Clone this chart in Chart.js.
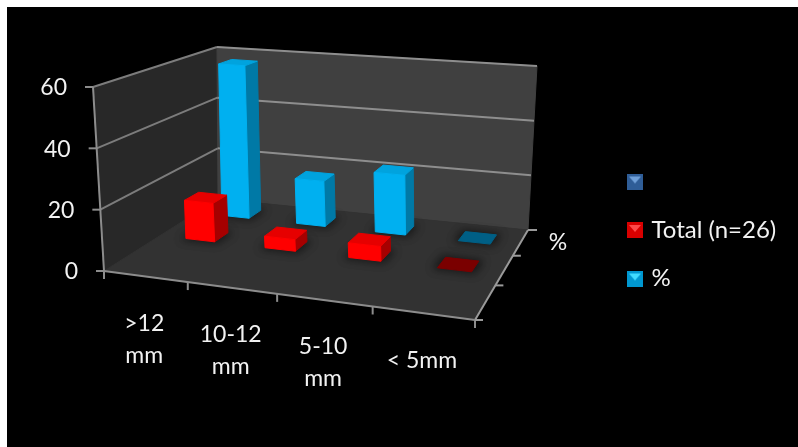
<!DOCTYPE html>
<html>
<head>
<meta charset="utf-8">
<script src="https://cdn.jsdelivr.net/npm/chart.js@4"></script>
<style>
  html, body { margin: 0; padding: 0; background: #fff; }
  canvas { display: block; filter: blur(0.45px); }
</style>
</head>
<body>
<canvas id="chart" width="798" height="447"></canvas>
<script>
const categories = [[">12", "mm"], ["10-12", "mm"], ["5-10", "mm"], ["< 5mm"]];
const blankValues = [null, null, null, null];
const totalValues = [13.5, 4, 5, 0];
const percentValues = [57, 16.5, 21.5, 0];
const seriesNames = ["", "Total (n=26)", "%"];
const valueTicks = [0, 20, 40, 60];
const depthLabel = "%";

const FONT = "Lato, 'Open Sans', sans-serif";
const faces = [
  null,
  { front: "#ff0000", side: "#a60000", top: "#e60000", flat: "#7a0000" },
  { front: "#00b0f0", side: "#0079a6", top: "#00a3de", flat: "#005f85" }
];
const legendColors = [["#2f5d97", "#6f9fd8"], ["#d80000", "#ff4a4a"], ["#0097d0", "#40dcff"]];

// corners of the box in screen space: front-left, front-right, back-right, back-left
const floorQuad = [[104, 271], [475, 320], [528, 230], [218, 199]];
const ceilQuad = [[93, 87], [484, 124], [537, 66], [217, 47]];
// bars sit a touch further right towards the back-left than the wall corner suggests
const barFloorQuad = [[104, 271], [475, 320], [528, 230], [222, 199]];
const barCeilQuad = [[93, 87], [484, 124], [537, 66], [221, 47]];

function quadMap(q) {
  const [p0, p1, p2, p3] = q;
  const sx = p0[0] - p1[0] + p2[0] - p3[0], sy = p0[1] - p1[1] + p2[1] - p3[1];
  const dx1 = p1[0] - p2[0], dx2 = p3[0] - p2[0], dy1 = p1[1] - p2[1], dy2 = p3[1] - p2[1];
  const den = dx1 * dy2 - dx2 * dy1;
  const g = (sx * dy2 - dx2 * sy) / den, h = (dx1 * sy - sx * dy1) / den;
  const a = p1[0] - p0[0] + g * p1[0], b = p3[0] - p0[0] + h * p3[0];
  const d = p1[1] - p0[1] + g * p1[1], e = p3[1] - p0[1] + h * p3[1];
  return (u, w) => {
    const z = g * u + h * w + 1;
    return [(a * u + b * w + p0[0]) / z, (d * u + e * w + p0[1]) / z];
  };
}

// u across the categories, w into the depth, v up the value axis, all 0..1
function projector(floorQ, ceilQ) {
  const floorAt = quadMap(floorQ), ceilAt = quadMap(ceilQ);
  return (u, w, v) => {
    const f = floorAt(u, w), c = ceilAt(u, w);
    return [f[0] + (c[0] - f[0]) * v, f[1] + (c[1] - f[1]) * v];
  };
}
const project = projector(floorQuad, ceilQuad);
const projectBar = projector(barFloorQuad, barCeilQuad);

function poly(ctx, pts, fill) {
  ctx.beginPath();
  pts.forEach((p, i) => i ? ctx.lineTo(p[0], p[1]) : ctx.moveTo(p[0], p[1]));
  ctx.closePath();
  ctx.fillStyle = fill;
  ctx.fill();
  ctx.lineJoin = "round";
  ctx.lineWidth = 1;
  ctx.strokeStyle = fill;
  ctx.stroke();
}

function line(ctx, a, b, color, width) {
  ctx.beginPath();
  ctx.moveTo(a[0], a[1]);
  ctx.lineTo(b[0], b[1]);
  ctx.strokeStyle = color;
  ctx.lineWidth = width || 2;
  ctx.stroke();
}

function legendIcon(colors) {
  const c = document.createElement("canvas");
  c.width = 16;
  c.height = 16;
  const g = c.getContext("2d");
  g.fillStyle = colors[0];
  g.fillRect(0, 0, 16, 16);
  g.fillStyle = colors[1];
  g.beginPath();
  g.moveTo(2, 3);
  g.lineTo(14, 3);
  g.lineTo(8, 10);
  g.closePath();
  g.fill();
  return c;
}

const scene3d = {
  id: "scene3d",
  afterLayout(chart) {
    // legend sits far right of the floor, lower than the plot's centre
    const lg = chart.legend;
    const w = lg.right - lg.left;
    lg.left = 606;
    lg.right = 606 + w;
    lg.top = 90;
    lg.bottom = 370;
  },
  beforeDraw(chart) {
    const ctx = chart.ctx, y = chart.scales.y;
    const area = chart.chartArea;
    ctx.save();
    ctx.fillStyle = "#000";
    ctx.fillRect(7, 7, chart.width - 7, chart.height - 7);

    poly(ctx, [project(0, 0, 0), project(0, 1, 0), project(0, 1, 1), project(0, 0, 1)], "#282828");
    poly(ctx, [project(0, 1, 0), project(1, 1, 0), project(1, 1, 1), project(0, 1, 1)], "#404040");
    poly(ctx, [project(0, 0, 0), project(1, 0, 0), project(1, 1, 0), project(0, 1, 0)], "#323232");

    valueTicks.forEach(t => {
      const v = (area.bottom - y.getPixelForValue(t)) / area.height;
      const a = project(0, 0, v), b = project(0, 1, v), c = project(1, 1, v);
      if (t > 0) {
        line(ctx, a, b, "#7c7c7c");
        line(ctx, b, c, "#8e8e8e");
      }
      line(ctx, a, [a[0] - 8, a[1]], "#8c8c8c");
      ctx.fillStyle = "#f2f2f2";
      ctx.font = "23px " + FONT;
      ctx.textAlign = "right";
      ctx.textBaseline = "middle";
      ctx.fillText(String(t), a[0] - 26, a[1] + 1);
    });

    line(ctx, project(0, 0, 0), project(0, 0, 1), "#8c8c8c");
    line(ctx, project(1, 0, 0), project(1, 1, 0), "#9a9a9a");
    line(ctx, project(0, 0, 0), project(1, 0, 0), "#8c8c8c");

    // category ticks and labels
    const x = chart.scales.x;
    categories.forEach((label, i) => {
      const u = (x.getPixelForValue(i) - area.left) / area.width;
      const mid = project(u, 0, 0);
      ctx.fillStyle = "#f2f2f2";
      ctx.font = "23px " + FONT;
      ctx.textAlign = "center";
      ctx.textBaseline = "middle";
      label.forEach((txt, n) => ctx.fillText(txt, mid[0] - 1, mid[1] + 47 + n * 32));
    });
    for (let i = 0; i <= categories.length; i++) {
      const p = project(i / categories.length, 0, 0);
      line(ctx, p, [p[0], p[1] + 8], "#8c8c8c");
    }

    // depth ticks, one per series row
    seriesNames.forEach((s, i) => {
      const p = project(1, i / seriesNames.length, 0);
      line(ctx, p, [p[0] + 8, p[1]], "#9a9a9a");
    });
    const back = project(1, 1, 0);
    line(ctx, back, [back[0] + 9, back[1]], "#9a9a9a");
    ctx.fillStyle = "#f2f2f2";
    ctx.font = "23px " + FONT;
    ctx.textAlign = "center";
    ctx.textBaseline = "middle";
    ctx.fillText(depthLabel, back[0] + 30, back[1] + 13);
    ctx.restore();
  },
  afterDatasetsDraw(chart) {
    const ctx = chart.ctx, area = chart.chartArea;
    const rows = chart.data.datasets.length;
    const catWidth = area.width / categories.length;
    const pb = projectBar;
    ctx.save();
    for (let ds = rows - 1; ds >= 0; ds--) {
      const meta = chart.getDatasetMeta(ds);
      const values = chart.data.datasets[ds].data;
      meta.data.forEach((el, i) => {
        if (values[i] === null) return;
        const u0 = (el.x - el.width / 2 - area.left) / area.width;
        const u1 = (el.x + el.width / 2 - area.left) / area.width;
        const v = (area.bottom - el.y) / area.height;
        const half = el.width / catWidth / rows / 2;
        const w0 = (ds + 0.5) / rows - half, w1 = (ds + 0.5) / rows + half;
        const f = faces[ds];

        ctx.save();
        ctx.filter = "blur(4px)";
        poly(ctx, [pb(u0 - 0.01, w0 - 0.01, 0), pb(u1 + 0.01, w0 - 0.01, 0), pb(u1 + 0.01, w1 + 0.01, 0), pb(u0 - 0.01, w1 + 0.01, 0)], "rgba(0,0,0,0.55)");
        ctx.restore();

        if (values[i] === 0) {
          poly(ctx, [pb(u0, w0, 0), pb(u1, w0, 0), pb(u1, w1, 0), pb(u0, w1, 0)], f.flat);
          return;
        }
        poly(ctx, [pb(u1, w0, 0), pb(u1, w1, 0), pb(u1, w1, v), pb(u1, w0, v)], f.side);
        poly(ctx, [pb(u0, w0, v), pb(u1, w0, v), pb(u1, w1, v), pb(u0, w1, v)], f.top);
        poly(ctx, [pb(u0, w0, 0), pb(u1, w0, 0), pb(u1, w0, v), pb(u0, w0, v)], f.front);
      });
    }
    ctx.restore();
  }
};

const icons = legendColors.map(legendIcon);

new Chart(document.getElementById("chart"), {
  type: "bar",
  data: {
    labels: categories,
    datasets: [
      { label: seriesNames[0], data: blankValues, backgroundColor: "transparent" },
      { label: seriesNames[1], data: totalValues, backgroundColor: "transparent" },
      { label: seriesNames[2], data: percentValues, backgroundColor: "transparent" }
    ]
  },
  plugins: [scene3d],
  options: {
    responsive: false,
    animation: false,
    layout: { padding: { left: 104, top: 87, bottom: 176, right: 140 } },
    datasets: { bar: { grouped: false, barPercentage: 0.37, categoryPercentage: 1 } },
    scales: {
      x: { display: false },
      y: { display: false, min: 0, max: 60 }
    },
    plugins: {
      tooltip: { enabled: false },
      legend: {
        position: "right",
        labels: {
          usePointStyle: true,
          boxWidth: 9,
          padding: 24.5,
          color: "#f2f2f2",
          font: { family: FONT, size: 24 },
          generateLabels(chart) {
            return seriesNames.map((name, i) => ({
              text: name,
              fontColor: "#f2f2f2",
              pointStyle: icons[i],
              datasetIndex: i,
              lineWidth: 0,
              hidden: false
            }));
          }
        }
      }
    }
  }
});
</script>
</body>
</html>
